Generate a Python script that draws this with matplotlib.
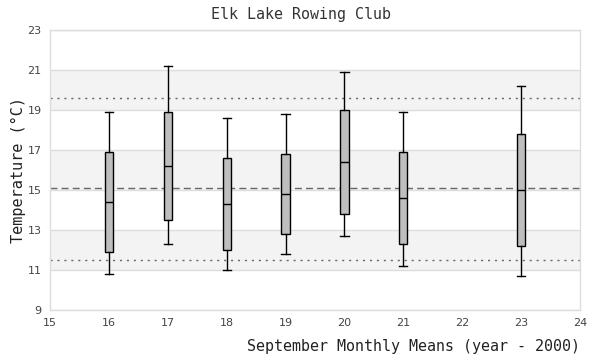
import matplotlib
matplotlib.use("Agg")
import matplotlib.pyplot as plt

years = [16, 17, 18, 19, 20, 21, 23]
whisker_low = [10.8, 12.3, 11.0, 11.8, 12.7, 11.2, 10.7]
q1 = [11.9, 13.5, 12.0, 12.8, 13.8, 12.3, 12.2]
median = [14.4, 16.2, 14.3, 14.8, 16.4, 14.6, 15.0]
q3 = [16.9, 18.9, 16.6, 16.8, 19.0, 16.9, 17.8]
whisker_high = [18.9, 21.2, 18.6, 18.8, 20.9, 18.9, 20.2]
mean_line = 15.08
upper_line = 19.6
lower_line = 11.5
bands = [(11, 13), (15, 17), (19, 21)]

fig = plt.figure(figsize=(6, 3.6), dpi=100)
ax = fig.add_axes([50/600, 50/360, 530/600, 280/360])
ax.set_xlim(15, 24)
ax.set_ylim(9, 23)

for lo, hi in bands:
    ax.axhspan(lo, hi, color="#f3f3f3", zorder=0, lw=0)
for y in range(9, 24, 2):
    ax.axhline(y, color="#dddddd", lw=1, zorder=0.5)

ax.axhline(mean_line, color="#666666", lw=1, ls=(0, (5, 3)), zorder=1)
ax.axhline(upper_line, color="#666666", lw=1, ls=(0, (1.5, 3.5)), zorder=1)
ax.axhline(lower_line, color="#666666", lw=1, ls=(0, (1.5, 3.5)), zorder=1)

stats = []
for i in range(len(years)):
    stats.append(dict(whislo=whisker_low[i], q1=q1[i], med=median[i],
                      q3=q3[i], whishi=whisker_high[i], fliers=[]))
ax.bxp(stats, positions=years, widths=0.14, patch_artist=True,
       showfliers=False, manage_ticks=False,
       boxprops=dict(facecolor="#bebebe", edgecolor="black", lw=1),
       medianprops=dict(color="black", lw=1),
       whiskerprops=dict(color="black", lw=1),
       capprops=dict(color="black", lw=1), capwidths=0.14, zorder=3)

ax.set_xticks(range(15, 25))
ax.set_yticks(range(9, 24, 2))
ax.tick_params(length=0, labelsize=8, labelcolor="#444444", pad=6)
for s in ax.spines.values():
    s.set_color("#dddddd")
    s.set_linewidth(1)

fig.text(301/600, 1 - 15/360, "Elk Lake Rowing Club", ha="center", va="center",
         family="DejaVu Sans Mono", fontsize=10.8, color="#333333")
fig.text(580/600, 1 - 347/360, "September Monthly Means (year - 2000)", ha="right",
         va="center", family="DejaVu Sans Mono", fontsize=10.8, color="#222222")
fig.text(18/600, 1 - 170/360, "Temperature (°C)", rotation=90, ha="center",
         va="center", family="DejaVu Sans Mono", fontsize=11, color="#222222")

fig.savefig("out.png", dpi=100)
